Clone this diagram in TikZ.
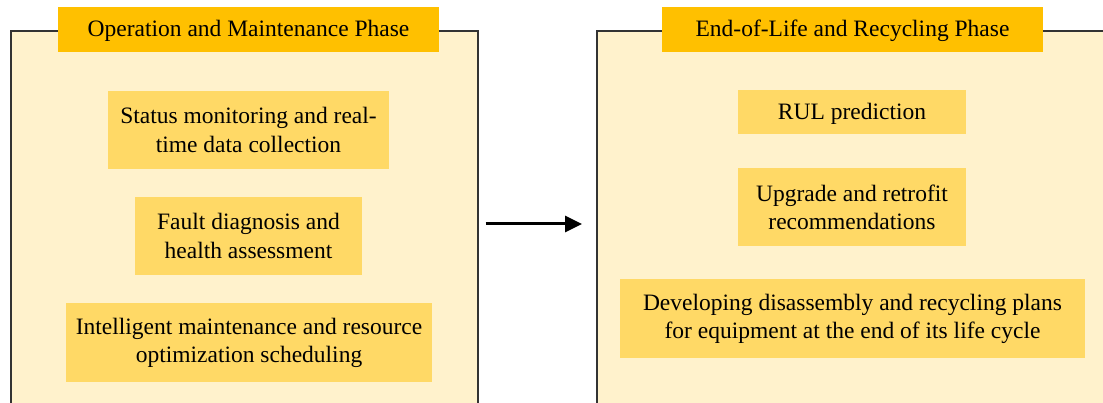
\documentclass[tikz,border=0pt]{standalone}
\usepackage{fontspec}
\setmainfont{Liberation Serif}
\usetikzlibrary{arrows.meta}
\definecolor{panelfill}{HTML}{FFF2CC}
\definecolor{titlefill}{HTML}{FFC000}
\definecolor{itemfill}{HTML}{FFD966}
\begin{document}
\begin{tikzpicture}[x=1pt,y=-1pt,
  every node/.style={font=\fontsize{23.5}{28.2}\selectfont, inner sep=0pt, align=center},
  panel/.style={draw=black!80, line width=1.7pt, fill=panelfill, anchor=north west},
  oneline/.style={text height=19.5pt, text depth=4.5pt},
  phasetitle/.style={oneline, fill=titlefill, minimum width=381pt, minimum height=45pt},
  item/.style={fill=itemfill, minimum height=78pt},
  flow/.style={-{Triangle[length=17pt,width=16pt]}, line width=3pt}
]
\clip (0,0) rectangle (1103,403);

% phase panels (running past the lower and right edges)
\node[panel, minimum width=467pt, minimum height=400pt] (lp) at (10,30) {};
\node[panel, minimum width=530pt, minimum height=400pt] (rp) at (596,30) {};

% phase titles
\node[phasetitle] (lt) at (248.5,29.5) {Operation and Maintenance Phase};
\node[phasetitle] (rt) at (852.5,29.5) {End-of-Life and Recycling Phase};

% operation and maintenance tasks
\node[item, minimum width=281pt] (l1) at (248.5,130) {Status monitoring and real-\\time data collection};
\node[item, minimum width=227pt] (l2) at (248.5,236) {Fault diagnosis and\\health assessment};
\node[item, minimum width=366pt, minimum height=79pt] (l3) at (249,342.5) {Intelligent maintenance and resource\\optimization scheduling};

% end-of-life tasks
\node[item, oneline, minimum width=228pt, minimum height=44pt] (r1) at (852,112) {RUL prediction};
\node[item, minimum width=228pt] (r2) at (852,207) {Upgrade and retrofit\\recommendations};
\node[item, minimum width=465pt, minimum height=79pt] (r3) at (852.5,318.5) {Developing disassembly and recycling plans\\for equipment at the end of its life cycle};

% transition between phases
\coordinate (a0) at ([xshift=7pt]lp.north east |- 0,224);
\coordinate (a1) at ([xshift=-14pt]rp.north west |- 0,224);
\draw[flow] (a0) -- (a1);
\end{tikzpicture}
\end{document}
